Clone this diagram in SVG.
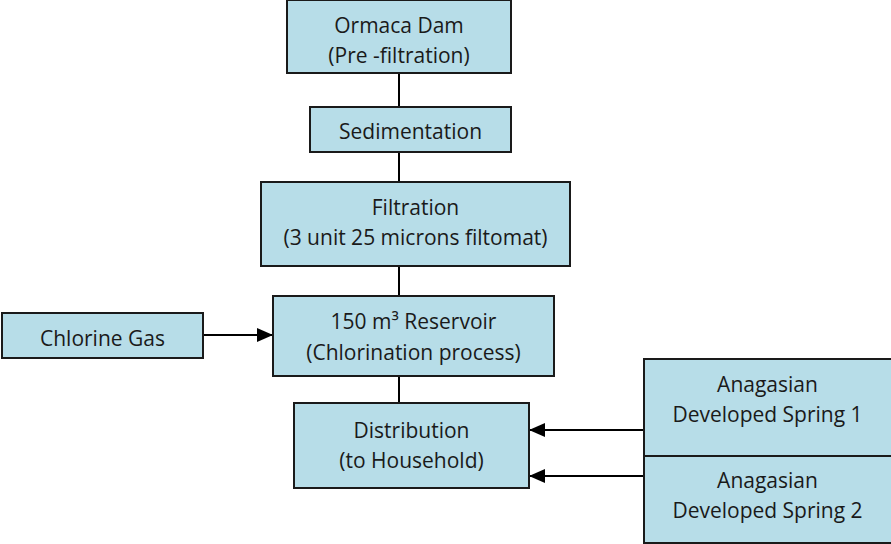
<svg xmlns="http://www.w3.org/2000/svg" width="891" height="544" viewBox="0 0 891 544">
  <defs>
    <style>
      .box { fill: #b7dde8; stroke: #1a1a1a; stroke-width: 2; }
      .lbl { font-family: "Open Sans", "Liberation Sans", sans-serif; font-size: 21px; fill: #1a1a1a; text-anchor: middle; }
      .line { stroke: #000; stroke-width: 2; fill: none; }
    </style>
    <marker id="arrow" viewBox="0 0 16 14" refX="16" refY="7" markerWidth="16" markerHeight="14" markerUnits="userSpaceOnUse" orient="auto">
      <path d="M0,0 L16,7 L0,14 Z" fill="#000"/>
    </marker>
  </defs>

  <!-- connectors -->
  <g id="connectors">
    <line class="line" x1="399" y1="74" x2="399" y2="107"/>
    <line class="line" x1="399" y1="152" x2="399" y2="182"/>
    <line class="line" x1="399" y1="266" x2="399" y2="296"/>
    <line class="line" x1="399" y1="376" x2="399" y2="403"/>
    <line class="line" x1="203" y1="335" x2="273" y2="335" marker-end="url(#arrow)"/>
    <line class="line" x1="644" y1="430" x2="529" y2="430" marker-end="url(#arrow)"/>
    <line class="line" x1="644" y1="476" x2="529" y2="476" marker-end="url(#arrow)"/>
  </g>

  <g id="ormaca-dam">
    <rect class="box" x="287" y="0" width="224" height="73"/>
    <text class="lbl" x="399" y="33">Ormaca Dam</text>
    <text class="lbl" x="399" y="63">(Pre -filtration)</text>
  </g>

  <g id="sedimentation">
    <rect class="box" x="310" y="107" width="201" height="45"/>
    <text class="lbl" x="410.5" y="139">Sedimentation</text>
  </g>

  <g id="filtration">
    <rect class="box" x="261" y="182" width="309" height="84"/>
    <text class="lbl" x="415.5" y="215">Filtration</text>
    <text class="lbl" x="415.5" y="245">(3 unit 25 microns filtomat)</text>
  </g>

  <g id="reservoir">
    <rect class="box" x="273" y="296" width="281" height="80"/>
    <text class="lbl" x="413.5" y="329">150 m³ Reservoir</text>
    <text class="lbl" x="413.5" y="360">(Chlorination process)</text>
  </g>

  <g id="chlorine-gas">
    <rect class="box" x="2" y="313" width="201" height="45"/>
    <text class="lbl" x="102.5" y="346">Chlorine Gas</text>
  </g>

  <g id="distribution">
    <rect class="box" x="294" y="403" width="235" height="85"/>
    <text class="lbl" x="411.5" y="438">Distribution</text>
    <text class="lbl" x="411.5" y="468">(to Household)</text>
  </g>

  <g id="spring-1">
    <rect class="box" x="644" y="359" width="248" height="97"/>
    <text class="lbl" x="767.5" y="392">Anagasian</text>
    <text class="lbl" x="767.5" y="422">Developed Spring 1</text>
  </g>

  <g id="spring-2">
    <rect class="box" x="644" y="456" width="248" height="87"/>
    <text class="lbl" x="767.5" y="488">Anagasian</text>
    <text class="lbl" x="767.5" y="518">Developed Spring 2</text>
  </g>
</svg>
